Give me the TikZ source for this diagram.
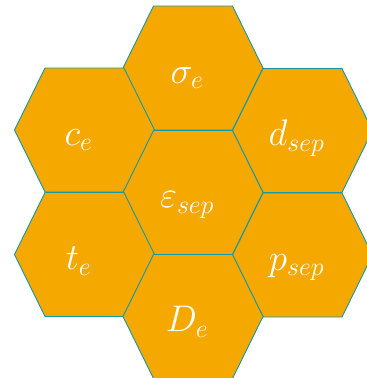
\documentclass[tikz,border=0pt]{standalone}
\usepackage{fix-cm}
\usepackage{xcolor}
\usepackage{amsmath, amssymb}
\usepackage{tikz}
\usetikzlibrary{calc}
\definecolor{hexfill}{RGB}{245,168,0}
\definecolor{hexline}{RGB}{20,152,165}
\tikzset{
  hexcell/.style  = {draw=hexline, fill=hexfill, line width=0.9pt, line join=miter},
  hexlabel/.style = {text=white, font=\fontsize{37}{44}\selectfont,
                     inner sep=0pt, anchor=base},
}

\begin{document}
\begin{tikzpicture}[x=1pt, y=-1pt]
  \useasboundingbox (0,0) rectangle (367,378);
  \clip (0,0) rectangle (367,378);

  % honeycomb: name / centre x / centre y / label
  \foreach \name/\cx/\cy/\lbl in {
      top/193/68/{\sigma_e},
      lup/84.5/130/{c_e},
      rup/302.5/130.5/{d_{sep}},
      mid/193/192.5/{\varepsilon_{sep}},
      llow/84.5/254.5/{t_e},
      rlow/302.5/255/{p_{sep}},
      bot/193/316.5/{D_e}}
  {
    \coordinate (\name) at (\cx,\cy);
    \draw[hexcell] ($(\name)+(-70,0)$) -- ++(30.5,-62) -- ++(79,0)
      -- ++(30.5,62) -- ++(-30.5,62) -- ++(-79,0) -- cycle;
    \node[hexlabel] (\name-txt) at ($(\name)+(-6,15)$) {$\lbl$};
  }
\end{tikzpicture}
\end{document}
